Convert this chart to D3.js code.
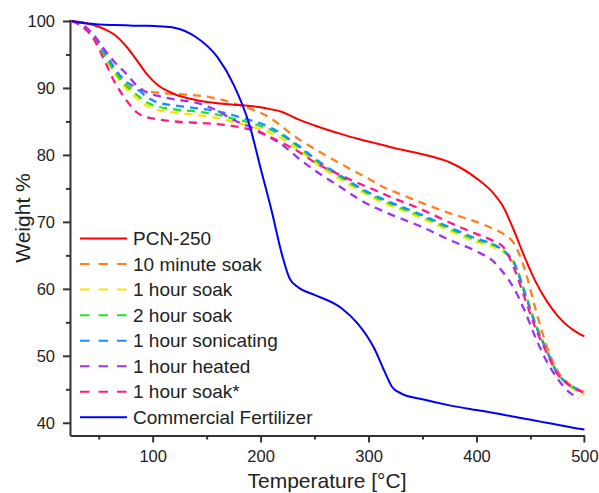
<!DOCTYPE html>
<html>
<head>
<meta charset="utf-8">
<script src="https://cdn.jsdelivr.net/npm/d3@7"></script>
<style>
  html, body { margin: 0; padding: 0; background: #fff; }
  svg { display: block; font-family: "Liberation Sans", Arial, sans-serif; }
</style>
</head>
<body>
<svg id="chart" width="599" height="493"></svg>
<script>
// Thermogravimetric curves: weight (%) against temperature (°C)
const temperature = [25, 35, 45, 55, 65, 75, 85, 95, 105, 120, 140, 160, 175, 190, 200, 210, 220, 227, 235, 250, 275, 290, 305, 315, 322, 330, 350, 375, 400, 415, 425, 435, 445, 455, 465, 475, 485, 495, 500];

const pcn250      = [100, 99.8, 99.4, 98.8, 97.9, 96.3, 94.2, 92.0, 90.4, 89.1, 88.2, 87.7, 87.5, 87.3, 87.1, 86.8, 86.4, 85.9, 85.3, 84.4, 83.1, 82.4, 81.8, 81.4, 81.1, 80.8, 80.1, 78.9, 76.5, 74.4, 72.2, 68.6, 64.6, 61.0, 58.2, 56.0, 54.4, 53.3, 52.9];
const minSoak10   = [100, 99.3, 97.8, 95.4, 92.6, 90.6, 89.7, 89.5, 89.3, 89.1, 88.9, 88.4, 87.7, 86.9, 86.3, 85.4, 84.2, 83.3, 82.4, 80.9, 78.6, 77.3, 76.0, 75.1, 74.6, 74.1, 72.8, 71.3, 70.0, 69.0, 68.2, 66.7, 62.8, 56.8, 51.5, 47.8, 45.9, 44.9, 44.6];
const hourSoak1   = [100, 99.2, 97.5, 94.8, 92.1, 90.0, 88.5, 87.3, 86.7, 86.3, 86.0, 85.5, 84.9, 84.3, 83.8, 83.2, 82.4, 81.6, 80.8, 78.9, 76.2, 74.8, 73.5, 72.8, 72.3, 71.8, 70.5, 68.7, 67.0, 66.3, 65.5, 63.7, 59.5, 54.8, 51.0, 47.5, 45.6, 44.5, 44.2];
const hourSoak2   = [100, 99.2, 97.6, 95.0, 92.4, 90.4, 89.0, 87.8, 87.2, 86.8, 86.5, 86.0, 85.4, 84.8, 84.3, 83.7, 82.9, 82.1, 81.2, 79.3, 76.6, 75.1, 73.8, 73.1, 72.6, 72.1, 70.8, 69.0, 67.3, 66.6, 65.7, 63.9, 59.4, 54.6, 50.8, 47.4, 45.8, 44.9, 44.6];
const sonicating  = [100, 99.3, 97.9, 95.5, 92.9, 91.0, 90.0, 88.6, 87.8, 87.4, 87.0, 86.5, 85.9, 85.2, 84.7, 84.0, 83.1, 82.3, 81.4, 79.5, 76.8, 75.3, 74.0, 73.3, 72.8, 72.3, 71.0, 69.2, 67.5, 66.7, 65.7, 63.8, 59.2, 54.5, 50.8, 47.4, 45.8, 44.9, 44.6];
const heated      = [100, 99.4, 98.0, 95.8, 93.8, 92.2, 90.4, 89.3, 88.8, 88.3, 87.8, 86.6, 85.2, 84.2, 83.4, 82.5, 81.5, 80.6, 79.5, 77.7, 75.1, 73.5, 72.2, 71.5, 71.0, 70.5, 69.2, 67.3, 65.6, 64.2, 62.4, 60.0, 56.6, 52.6, 49.2, 46.6, 44.7, 43.7, null];
const hourSoakStar= [100, 99.1, 97.4, 94.2, 90.8, 88.3, 86.4, 85.6, 85.3, 85.0, 84.8, 84.6, 84.3, 83.8, 83.3, 82.6, 81.8, 81.2, 80.5, 78.9, 76.9, 75.8, 74.8, 74.1, 73.6, 73.1, 71.8, 69.9, 68.2, 67.2, 66.2, 63.0, 58.5, 54.0, 50.5, 47.3, 45.7, 44.8, 44.5];
const fertilizer  = [100, 99.7, 99.55, 99.45, 99.4, 99.35, 99.3, 99.3, 99.2, 99.0, 97.6, 94.6, 90.5, 84.3, 78.0, 71.8, 65.0, 61.5, 60.2, 59.1, 57.1, 54.8, 51.2, 47.6, 45.3, 44.4, 43.5, 42.6, 41.9, 41.5, 41.2, 40.9, 40.6, 40.3, 40.0, 39.7, 39.4, 39.1, 39.0];

const seriesNames  = ["PCN-250", "10 minute soak", "1 hour soak", "2 hour soak", "1 hour sonicating", "1 hour heated", "1 hour soak*", "Commercial Fertilizer"];
const seriesValues = [pcn250, minSoak10, hourSoak1, hourSoak2, sonicating, heated, hourSoakStar, fertilizer];
const seriesColors = ["#ff0000", "#ff7f1e", "#f7e600", "#1ee61e", "#1e8cff", "#a033f0", "#ff1a8c", "#0000ff"];
const seriesDashed = [false, true, true, true, true, true, true, false];

const xTicks = [100, 200, 300, 400, 500];
const yTicks = [40, 50, 60, 70, 80, 90, 100];

const svg = d3.select("#chart");

const x = d3.scaleLinear().domain([23.4, 500]).range([70, 584.4]);
const y = d3.scaleLinear().domain([38.1, 100.25]).range([435.5, 19.3]);

const axisColor = "#333";
const textColor = "#222";

// curves (dashed ones first, solid on top)
const line = d3.line()
  .defined(d => d[1] != null)
  .x(d => x(d[0]))
  .y(d => y(d[1]))
  .curve(d3.curveMonotoneX);

const order = [1, 2, 3, 4, 5, 6, 0, 7];
const curves = svg.append("g").attr("class", "curves");
order.forEach(i => {
  const pts = temperature.map((t, k) => [t, seriesValues[i][k]]);
  curves.append("path")
    .datum(pts)
    .attr("d", line)
    .attr("fill", "none")
    .attr("stroke", seriesColors[i])
    .attr("stroke-width", seriesDashed[i] ? 2.3 : 2)
    .attr("stroke-dasharray", seriesDashed[i] ? "8,6" : null)
    .attr("stroke-linejoin", "round");
});

// x axis
const xAxis = svg.append("g")
  .attr("transform", "translate(0,435.5)")
  .call(d3.axisBottom(x).tickValues(xTicks).tickSize(7).tickSizeOuter(0).tickPadding(8));
xAxis.selectAll(".tick").filter(d => d === 500).select("line").remove();
const xMinor = svg.append("g")
  .attr("transform", "translate(0,435.5)")
  .call(d3.axisBottom(x).tickValues([50, 150, 250, 350, 450]).tickSize(4).tickSizeOuter(0).tickFormat(""));
xMinor.select(".domain").remove();

// y axis
const yAxis = svg.append("g")
  .attr("transform", "translate(70,0)")
  .call(d3.axisLeft(y).tickValues(yTicks).tickSize(7).tickSizeOuter(0).tickPadding(8));
const yMinor = svg.append("g")
  .attr("transform", "translate(70,0)")
  .call(d3.axisLeft(y).tickValues([45, 55, 65, 75, 85, 95]).tickSize(4).tickSizeOuter(0).tickFormat(""));
yMinor.select(".domain").remove();

[xAxis, xMinor, yAxis, yMinor].forEach(g => {
  g.selectAll(".domain").attr("stroke", axisColor).attr("stroke-width", 2);
  g.selectAll(".tick line").attr("stroke", axisColor).attr("stroke-width", 2);
  g.selectAll(".tick text")
    .attr("fill", textColor)
    .style("font-size", "16.5px")
    .style("font-family", "'Liberation Sans', Arial, sans-serif");
});
// 500 tick mark sits on the axis end
svg.append("line")
  .attr("x1", x(500)).attr("x2", x(500))
  .attr("y1", 435.5).attr("y2", 442.5)
  .attr("stroke", axisColor).attr("stroke-width", 2);

// axis titles
svg.append("text")
  .attr("x", 327).attr("y", 488)
  .attr("text-anchor", "middle")
  .attr("fill", textColor)
  .style("font-size", "21px")
  .text("Temperature [°C]");

svg.append("text")
  .attr("transform", "translate(30,218) rotate(-90)")
  .attr("text-anchor", "middle")
  .attr("fill", textColor)
  .style("font-size", "21px")
  .text("Weight %");

// legend
const legend = svg.append("g").attr("class", "legend");
seriesNames.forEach((name, i) => {
  const ly = 238.5 + i * 25.55;
  legend.append("line")
    .attr("x1", 80).attr("x2", 127)
    .attr("y1", ly).attr("y2", ly)
    .attr("stroke", seriesColors[i])
    .attr("stroke-width", 2)
    .attr("stroke-dasharray", seriesDashed[i] ? "9.5,9" : null);
  legend.append("text")
    .attr("x", 133).attr("y", ly)
    .attr("dy", "0.35em")
    .attr("fill", textColor)
    .style("font-size", "19px")
    .text(name);
});
</script>
</body>
</html>
